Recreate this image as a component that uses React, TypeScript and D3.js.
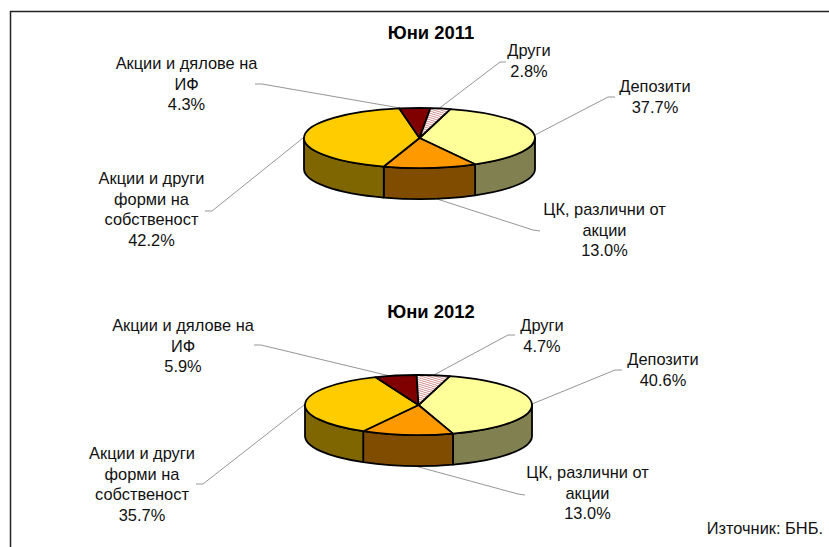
import React from 'react';
import * as d3 from 'd3';

const categories = ['Депозити', 'ЦК, различни от акции', 'Акции и други форми на собственост', 'Акции и дялове на ИФ', 'Други'];
const values2011 = [37.7, 13.0, 42.2, 4.3, 2.8];
const values2012 = [40.6, 13.0, 35.7, 5.9, 4.7];
const topColors = ['#ffff99', '#ff9900', '#ffcc00', '#800000', 'url(#hatch)'];
const sideColors = ['#808050', '#804c00', '#806600', '#400000', '#e0c0c0'];

// label lines per slice, the last line is the percent
const labelLines = [
  ['Депозити'],
  ['ЦК, различни от', 'акции'],
  ['Акции и други', 'форми на', 'собственост'],
  ['Акции и дялове на', 'ИФ'],
  ['Други'],
];

const charts = [
  {
    title: 'Юни 2011',
    titleX: 431,
    titleY: 39,
    values: values2011,
    cx: 419.5,
    cy: 138,
    rx: 115.5,
    ry: 30,
    depth: 31,
    start: 15.5,
    labels: [[655, 92], [604.5, 215], [151.5, 184], [186.5, 69], [529, 56]],
    leaders: [
      [[535, 135], [608, 97], [615, 97]],
      [[437, 199], [533, 230], [540, 231]],
      [[303, 138], [212, 211], [205, 211]],
      [[255, 84], [262, 84], [400, 108]],
      [[437, 110], [500, 62], [506, 62]],
    ],
  },
  {
    title: 'Юни 2012',
    titleX: 431,
    titleY: 318,
    values: values2012,
    cx: 418.5,
    cy: 405,
    rx: 113.5,
    ry: 30,
    depth: 31,
    start: 16,
    labels: [[663, 365], [587.5, 478], [142, 459], [183, 331], [542, 331]],
    leaders: [
      [[532, 404], [615, 370], [622, 370]],
      [[415, 466], [518, 494], [525, 495]],
      [[304, 405], [203, 484], [196, 484]],
      [[254, 345], [261, 345], [390, 376]],
      [[432, 376], [508, 335], [515, 335]],
    ],
  },
];

const rad = (deg: number) => (deg * Math.PI) / 180;
const leaderLine = d3.line();

function Pie3D({ chart }: { chart: (typeof charts)[number] }) {
  const { cx, cy, rx, ry, depth } = chart;
  const a0 = rad(chart.start);
  const slices = d3
    .pie<number>()
    .sort(null)
    .startAngle(a0)
    .endAngle(a0 + Math.PI * 2)(chart.values);
  const arc = d3.arc<d3.PieArcDatum<number>>().innerRadius(0).outerRadius(rx);
  const px = (t: number) => rx * Math.sin(t);
  const py = (t: number) => -ry * Math.cos(t);

  // side wall only shows for the front half of the ellipse
  const wall = (s: d3.PieArcDatum<number>) => {
    const t0 = Math.max(s.startAngle, Math.PI / 2);
    const t1 = Math.min(s.endAngle, (Math.PI * 3) / 2);
    if (t1 <= t0) return null;
    return (
      `M${px(t0)},${py(t0)}A${rx},${ry} 0 0 1 ${px(t1)},${py(t1)}` +
      `L${px(t1)},${py(t1) + depth}A${rx},${ry} 0 0 0 ${px(t0)},${py(t0) + depth}Z`
    );
  };

  return (
    <g>
      {chart.leaders.map((l, i) => (
        <path key={i} d={leaderLine(l as [number, number][]) || ''} fill="none" stroke="#969696" strokeWidth={1} />
      ))}
      <g transform={`translate(${cx},${cy})`} stroke="#000" strokeWidth={1.8} strokeLinejoin="round">
        {slices.map((s, i) => {
          const d = wall(s);
          return d ? <path key={i} d={d} fill={sideColors[i]} /> : null;
        })}
        <g transform={`scale(1,${ry / rx})`}>
          {slices.map((s, i) => (
            <path key={i} d={arc(s) || ''} fill={topColors[i]} vectorEffect="non-scaling-stroke" />
          ))}
        </g>
      </g>
      <text x={chart.titleX} y={chart.titleY} textAnchor="middle" fontWeight="bold" fontSize={18.4}>
        {chart.title}
      </text>
      {chart.labels.map((p, i) => {
        const lines = [...labelLines[i], chart.values[i].toFixed(1) + '%'];
        return (
          <text key={i} textAnchor="middle" fontSize={16.4} fill="#111">
            {lines.map((t, j) => (
              <tspan key={j} x={p[0]} y={p[1] + j * 20.6}>
                {t}
              </tspan>
            ))}
          </text>
        );
      })}
    </g>
  );
}

export default function App() {
  return (
    <svg
      width={829}
      height={547}
      style={{ position: 'absolute', left: 0, top: 0, fontFamily: '"Liberation Sans", Arial, sans-serif' }}
    >
      <defs>
        <pattern id="hatch" width={5} height={5} patternUnits="userSpaceOnUse" patternTransform="rotate(45)">
          <rect width={5} height={5} fill="#fff" />
          <rect width={2.4} height={5} fill="#d99a9a" />
        </pattern>
      </defs>
      <rect width={829} height={547} fill="#fff" />
      <path d="M10.5,547V11.5H829" fill="none" stroke="#222" strokeWidth={1.5} />
      {charts.map((c) => (
        <Pie3D key={c.title} chart={c} />
      ))}
      <text x={823} y={534} textAnchor="end" fontSize={16.4} fill="#111">
        Източник: БНБ.
      </text>
    </svg>
  );
}
